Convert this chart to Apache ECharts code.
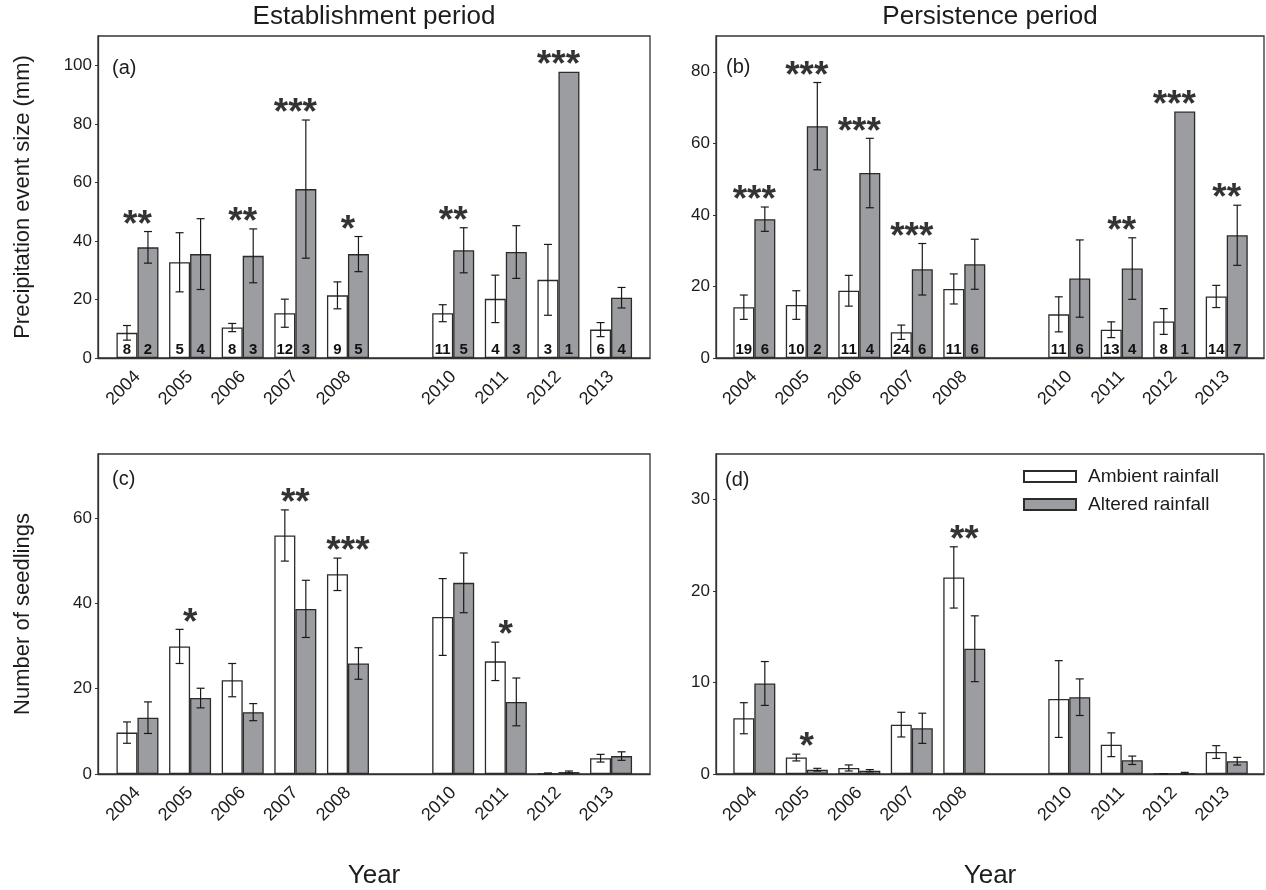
<!DOCTYPE html>
<html>
<head>
<meta charset="utf-8">
<script src="https://cdn.jsdelivr.net/npm/echarts@6/dist/echarts.min.js"></script>
<style>html,body{margin:0;padding:0;background:#fff}#c{width:1266px;height:890px}</style>
</head>
<body>
<div id="c"></div>
<script>
// ---- data ----
const years = [2004, 2005, 2006, 2007, 2008, 2010, 2011, 2012, 2013];

// (a) establishment period: precipitation event size (mm)
const aAmbMean = [8.6, 32.7, 10.4, 15.3, 21.4, 15.3, 20.2, 26.7, 9.7];
const aAmbSE   = [2.5, 10.1, 1.4, 4.8, 4.6, 2.9, 8.1, 12.1, 2.4];
const aAltMean = [37.8, 35.5, 34.9, 57.7, 35.5, 36.8, 36.2, 97.8, 20.6];
const aAltSE   = [5.4, 12.1, 9.2, 23.6, 6.0, 7.7, 9.0, null, 3.5];
const aAmbN    = [8, 5, 8, 12, 9, 11, 4, 3, 6];
const aAltN    = [2, 4, 3, 3, 5, 5, 3, 1, 4];
const aSig     = ['**', '', '**', '***', '*', '**', '', '***', ''];

// (b) persistence period: precipitation event size (mm)
const bAmbMean = [14.2, 14.8, 18.8, 7.2, 19.3, 12.2, 7.9, 10.2, 17.2];
const bAmbSE   = [3.4, 4.0, 4.3, 2.0, 4.2, 4.9, 2.2, 3.6, 3.1];
const bAltMean = [38.8, 64.8, 51.7, 24.8, 26.2, 22.2, 25.0, 68.9, 34.3];
const bAltSE   = [3.4, 12.2, 9.7, 7.2, 7.0, 10.8, 8.6, null, 8.4];
const bAmbN    = [19, 10, 11, 24, 11, 11, 13, 8, 14];
const bAltN    = [6, 2, 4, 6, 6, 6, 4, 1, 7];
const bSig     = ['***', '***', '***', '***', '', '', '**', '***', '**'];

// (c) establishment period: number of seedlings
const cAmbMean = [9.7, 29.9, 22.0, 55.9, 46.8, 36.8, 26.4, 0.15, 3.7];
const cAmbSE   = [2.5, 4.0, 3.9, 6.0, 3.8, 9.0, 4.5, 0.1, 0.9];
const cAltMean = [13.2, 17.8, 14.5, 38.7, 25.9, 44.8, 16.9, 0.45, 4.2];
const cAltSE   = [3.7, 2.3, 2.0, 6.7, 3.7, 7.0, 5.6, 0.25, 1.0];
const cSig     = ['', '*', '', '**', '***', '', '*', '', ''];

// (d) persistence period: number of seedlings
const dAmbMean = [6.1, 1.8, 0.66, 5.4, 21.5, 8.2, 3.2, 0.03, 2.4];
const dAmbSE   = [1.7, 0.37, 0.33, 1.35, 3.35, 4.2, 1.3, 0, 0.7];
const dAltMean = [9.9, 0.47, 0.36, 5.0, 13.7, 8.4, 1.5, 0.03, 1.4];
const dAltSE   = [2.4, 0.15, 0.12, 1.65, 3.6, 2.0, 0.46, 0.15, 0.42];
const dSig     = ['', '*', '', '', '**', '', '', '', ''];

const yMax = [110, 90, 75, 35];
const yInterval = [20, 20, 20, 10];
const panelLetters = ['(a)', '(b)', '(c)', '(d)'];
const periodTitles = ['Establishment period', 'Persistence period'];
const yNames = ['Precipitation event size (mm)', '', 'Number of seedlings', ''];
const seriesNames = ['Ambient rainfall', 'Altered rainfall'];

// ---- layout / style ----
const FONT = 'Liberation Sans, Arial, sans-serif';
const TXT = '#1c1c1c';
const GRAY = '#9c9da1';
const EDGE = '#2b2b2b';
const BW = 21;

const panels = [
  {amb: aAmbMean, ambSE: aAmbSE, alt: aAltMean, altSE: aAltSE, ambN: aAmbN, altN: aAltN, sig: aSig},
  {amb: bAmbMean, ambSE: bAmbSE, alt: bAltMean, altSE: bAltSE, ambN: bAmbN, altN: bAltN, sig: bSig},
  {amb: cAmbMean, ambSE: cAmbSE, alt: cAltMean, altSE: cAltSE, ambN: null, altN: null, sig: cSig},
  {amb: dAmbMean, ambSE: dAmbSE, alt: dAltMean, altSE: dAltSE, ambN: null, altN: null, sig: dSig}
];

const grids = [
  {left: 98, top: 36, width: 552, height: 322},
  {left: 716, top: 36, width: 548, height: 322},
  {left: 98, top: 454, width: 552, height: 321},
  {left: 716, top: 454, width: 548, height: 321}
].map(g => Object.assign(g, {show: true, borderColor: '#333', borderWidth: 1.3, containLabel: false}));

const xRange = [[2003.25, 2013.74], [2003.27, 2013.71], [2003.25, 2013.74], [2003.27, 2013.71]];

const xAxes = grids.map((g, i) => ({
  type: 'value', gridIndex: i, min: xRange[i][0], max: xRange[i][1],
  axisLine: {show: true, lineStyle: {color: '#333', width: 1.3}},
  axisTick: {show: false},
  splitLine: {show: false},
  axisLabel: {customValues: years, rotate: 45, margin: 16, fontSize: 18, color: TXT, fontFamily: FONT,
              formatter: v => String(Math.round(v))},
  name: i >= 2 ? 'Year' : '', nameLocation: 'middle', nameGap: 89,
  nameTextStyle: {fontSize: 26, color: TXT, fontFamily: FONT}
}));

const yAxes = grids.map((g, i) => ({
  type: 'value', gridIndex: i, min: 0, max: yMax[i], interval: yInterval[i],
  axisLine: {show: true, lineStyle: {color: '#333', width: 1.3}},
  axisTick: {show: true, length: 3, lineStyle: {color: '#333'}},
  splitLine: {show: false},
  axisLabel: {showMaxLabel: false, margin: 6, fontSize: 17, color: TXT, fontFamily: FONT,
              formatter: v => (v % yInterval[i] === 0 ? String(v) : '')},
  name: yNames[i], nameLocation: 'middle', nameGap: 64,
  nameTextStyle: {fontSize: 22, color: TXT, fontFamily: FONT}
}));

function errSeries(i, mean, se, off) {
  const data = [];
  years.forEach((y, k) => { if (se[k] !== null && se[k] !== undefined) data.push([y, mean[k], se[k]]); });
  return {
    type: 'custom', xAxisIndex: i, yAxisIndex: i, z: 5, silent: true, data: data,
    renderItem: function (params, api) {
      const x = api.value(0), m = api.value(1), s = api.value(2);
      const t = api.coord([x, m + s]);
      const b = api.coord([x, Math.max(m - s, 0)]);
      const cx = t[0] + off;
      const st = {stroke: '#1a1a1a', lineWidth: 1.2};
      return {type: 'group', children: [
        {type: 'line', shape: {x1: cx, y1: t[1], x2: cx, y2: b[1]}, style: st},
        {type: 'line', shape: {x1: cx - 4, y1: t[1], x2: cx + 4, y2: t[1]}, style: st},
        {type: 'line', shape: {x1: cx - 4, y1: b[1], x2: cx + 4, y2: b[1]}, style: st}
      ]};
    }
  };
}

const series = [];
panels.forEach((p, i) => {
  const nLabel = (arr) => arr ? {
    show: true, position: 'insideBottom', distance: 1, fontSize: 15, fontWeight: 'bold',
    color: '#111', fontFamily: FONT, formatter: q => String(arr[q.dataIndex])
  } : {show: false};
  series.push({
    name: seriesNames[0], type: 'bar', xAxisIndex: i, yAxisIndex: i, barWidth: BW, barGap: '0%',
    data: years.map((y, k) => [y, p.amb[k]]),
    itemStyle: {color: '#ffffff', borderColor: EDGE, borderWidth: 1.3},
    label: nLabel(p.ambN)
  });
  series.push({
    name: seriesNames[1], type: 'bar', xAxisIndex: i, yAxisIndex: i, barWidth: BW, barGap: '0%',
    data: years.map((y, k) => [y, p.alt[k]]),
    itemStyle: {color: GRAY, borderColor: EDGE, borderWidth: 1.3},
    label: nLabel(p.altN)
  });
  series.push(errSeries(i, p.amb, p.ambSE, -BW / 2));
  series.push(errSeries(i, p.alt, p.altSE, BW / 2));
  const sigData = [];
  years.forEach((y, k) => {
    if (p.sig[k]) {
      const top = Math.max(p.amb[k] + (p.ambSE[k] || 0), p.alt[k] + (p.altSE[k] || 0));
      sigData.push([y, top, p.sig[k]]);
    }
  });
  series.push({
    type: 'scatter', xAxisIndex: i, yAxisIndex: i, z: 6, silent: true, data: sigData,
    symbolSize: 1, itemStyle: {color: 'rgba(0,0,0,0)'},
    label: {show: true, position: 'top', distance: -13, formatter: q => q.value[2],
            fontSize: 37, fontWeight: 'bold', color: '#000', fontFamily: FONT}
  });
});

const titles = [
  {text: periodTitles[0], left: 374, top: 4, textAlign: 'center'},
  {text: periodTitles[1], left: 990, top: 4, textAlign: 'center'},
  {text: panelLetters[0], left: 112, top: 58, small: true},
  {text: panelLetters[1], left: 726, top: 57, small: true},
  {text: panelLetters[2], left: 112, top: 469, small: true},
  {text: panelLetters[3], left: 725, top: 470, small: true}
].map(t => ({
  text: t.text, left: t.left, top: t.top, textAlign: t.textAlign || 'left', padding: 0,
  textStyle: {fontSize: t.small ? 20 : 26, fontWeight: 'normal', color: TXT, fontFamily: FONT}
}));

const chart = echarts.init(document.getElementById('c'), null, {renderer: 'canvas'});
chart.setOption({
  animation: false,
  backgroundColor: '#ffffff',
  title: titles,
  legend: {
    data: seriesNames, left: 1023, top: 467, orient: 'vertical', itemWidth: 52, itemHeight: 11,
    itemGap: 9, padding: 0, icon: 'rect',
    textStyle: {fontSize: 19, color: TXT, fontFamily: FONT, padding: [0, 0, 0, 7]}
  },
  grid: grids,
  xAxis: xAxes,
  yAxis: yAxes,
  series: series
});
</script>
</body>
</html>
